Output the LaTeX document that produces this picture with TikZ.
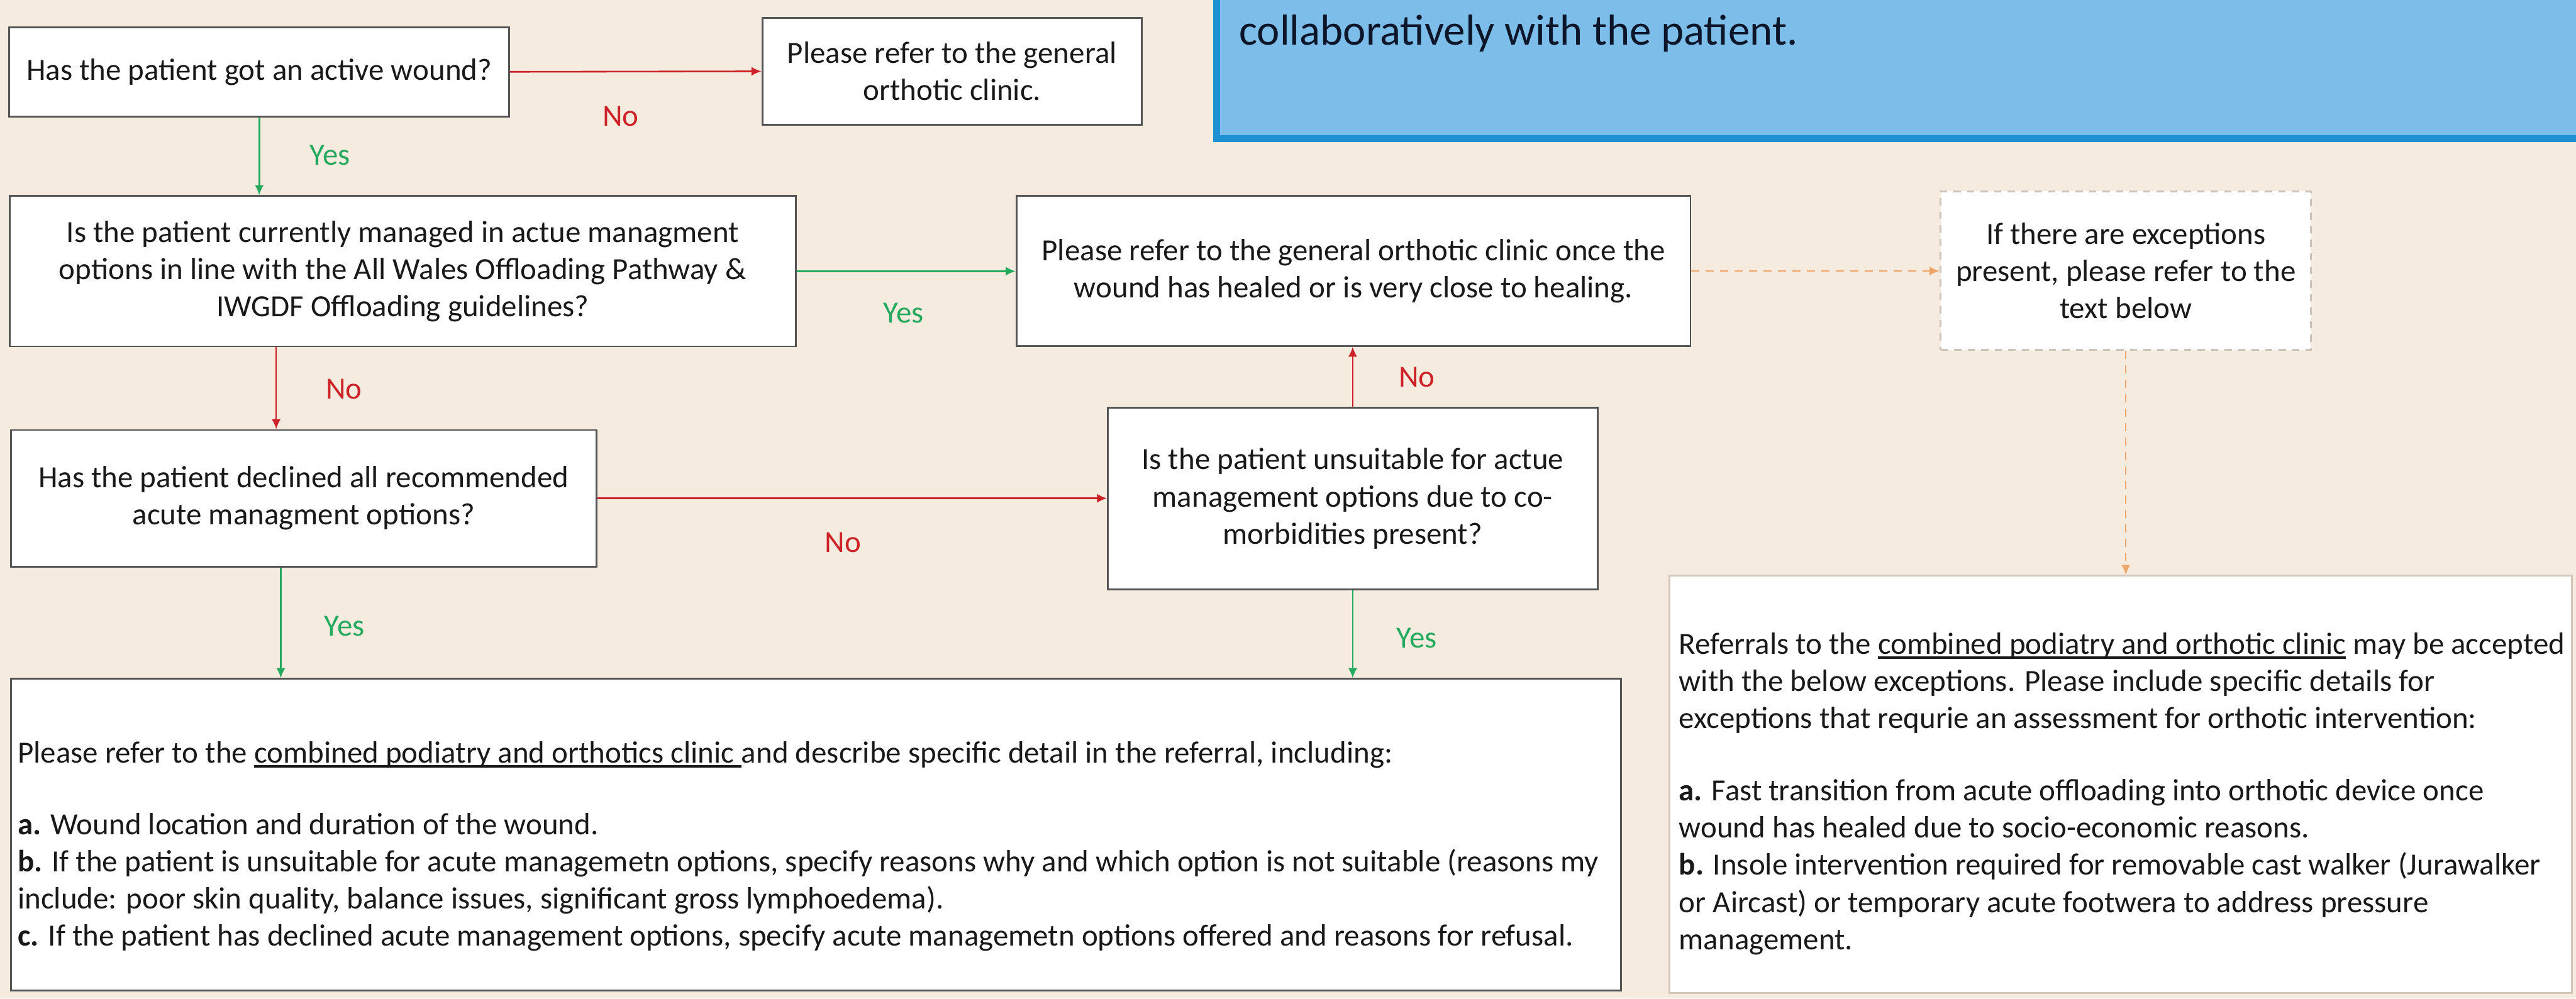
\documentclass[tikz,border=0pt]{standalone}
\usepackage{fontspec}
\setmainfont{Carlito}
\usetikzlibrary{arrows.meta,calc}
\definecolor{bgc}{RGB}{246,235,223}
\definecolor{boxdraw}{RGB}{85,85,85}
\definecolor{txt}{RGB}{25,25,25}
\definecolor{redc}{RGB}{205,35,40}
\definecolor{greenc}{RGB}{35,170,95}
\definecolor{orangec}{RGB}{240,165,105}
\definecolor{dashc}{RGB}{205,195,185}
\definecolor{bluefill}{RGB}{124,189,234}
\definecolor{blueline}{RGB}{30,145,210}
\definecolor{bsevenline}{RGB}{212,198,184}
\definecolor{navytxt}{RGB}{12,22,40}
\newcommand\fs{\fontsize{17.07}{20.6}\selectfont}
\newsavebox\myulbox
\newcommand\myul[1]{\sbox\myulbox{#1}\rlap{\rule[-0.15em]{\wd\myulbox}{0.07em}}\usebox\myulbox}
\tikzset{
  box/.style={draw=boxdraw, line width=1pt, fill=white, align=center, text=txt, font=\fs, inner sep=0pt},
  dbox/.style={box, draw=dashc, dash pattern=on 4pt off 3.5pt, line width=1.1pt},
  redarr/.style={draw=redc, line width=0.9pt, -{Latex[length=5.5pt,width=5pt]}},
  greenarr/.style={draw=greenc, line width=0.9pt, -{Latex[length=5.5pt,width=5pt]}},
  orangearr/.style={draw=orangec, line width=0.9pt, dash pattern=on 4.5pt off 3.5pt, -{Latex[length=5.5pt,width=5pt]}},
  nolab/.style={text=redc, font=\fs, inner sep=0pt},
  yeslab/.style={text=greenc, font=\fs, inner sep=0pt},
  bodytext/.style={anchor=base west, align=left, text=txt, font=\fs, inner sep=0pt}
}
\begin{document}
\begin{tikzpicture}
\useasboundingbox (0,0) rectangle (50.18,-19.46);
\fill[bgc] (0,0) rectangle (50.18,-19.46);
\clip (0,0) rectangle (50.18,-19.46);

% top-right note box
\node[draw=blueline, fill=bluefill, line width=3.7pt, minimum width=27.3cm, minimum height=3.2cm, inner sep=0pt] (note) at (37.35,-1.10) {};
\node[anchor=base west, inner sep=0pt, text=navytxt, font=\fontsize{24}{29}\selectfont] (notetext) at (24.13,-0.88) {collaboratively with the patient.};

% flow boxes
\node[box, minimum width=9.74cm, minimum height=1.74cm] (b1) at (5.05,-1.40) {Has the patient got an active wound?};
\node[box, minimum width=7.39cm, minimum height=2.08cm] (b2) at (18.545,-1.39) {Please refer to the general\\orthotic clinic.};
\node[box, minimum width=15.31cm, minimum height=2.93cm] (b3) at (7.845,-5.285) {Is the patient currently managed in actue managment\\options in line with the All Wales Offloading Pathway \&\\IWGDF Offloading guidelines?};
\node[box, minimum width=13.13cm, minimum height=2.92cm] (b4) at (26.365,-5.28) {Please refer to the general orthotic clinic once the\\wound has healed or is very close to healing.};
\node[box, minimum width=11.41cm, minimum height=2.66cm] (b5) at (5.915,-9.71) {Has the patient declined all recommended\\acute managment options?};
\node[box, minimum width=9.54cm, minimum height=3.53cm] (b6) at (26.35,-9.715) {Is the patient unsuitable for actue\\management options due to co-\\morbidities present?};
\node[dbox, minimum width=7.22cm, minimum height=3.09cm] (bx) at (41.41,-5.275) {If there are exceptions\\present, please refer to the\\text below};
\node[box, draw=bsevenline, minimum width=17.58cm, minimum height=8.13cm] (b7) at (41.31,-15.285) {};
\node[box, minimum width=31.37cm, minimum height=6.07cm] (b8) at (15.895,-16.265) {};

% texts of the big boxes (anchored at the baseline of their last line)
\node[bodytext] (t8) at (0.34,-18.43) {Please refer to the \myul{combined podiatry and orthotics clinic\ }and describe specific detail in the referral, including:\\[19pt]
\textbf{a.} Wound location and duration of the wound.\\
\textbf{b.} If the patient is unsuitable for acute managemetn options, specify reasons why and which option is not suitable (reasons my\\
include: poor skin quality, balance issues, significant gross lymphoedema).\\
\textbf{c.} If the patient has declined acute management options, specify acute managemetn options offered and reasons for refusal.};
\node[bodytext] (t7) at (32.70,-18.50) {Referrals to the \myul{combined podiatry and orthotic clinic} may be accepted\\
with the below exceptions. Please include specific details for\\
exceptions that requrie an assessment for orthotic intervention:\\[19.6pt]
\textbf{a.} Fast transition from acute offloading into orthotic device once\\
wound has healed due to socio-economic reasons.\\
\textbf{b.} Insole intervention required for removable cast walker (Jurawalker\\
or Aircast) or temporary acute footwera to address pressure\\
management.};

% connectors
\coordinate (c1) at (5.38,0);
\coordinate (c2) at (5.47,0);
\draw[redarr] (b1.east) -- (b2.west);
\draw[greenarr] (b1.south) -- (b1.south |- b3.north);
\draw[greenarr] (b3.east) -- (b3.east -| b4.west);
\draw[redarr] (c1 |- b3.south) -- (c1 |- b5.north);
\draw[greenarr] (c2 |- b5.south) -- (c2 |- b8.north);
\draw[redarr] (b5.east) -- (b5.east -| b6.west);
\draw[redarr] (b6.north) -- (b6.north |- b4.south);
\draw[greenarr] (b6.south) -- (b6.south |- b8.north);
\draw[orangearr] (b4.east) -- (b4.east -| bx.west);
\draw[orangearr] (bx.south) -- (bx.south |- b7.north);

% labels
\node[nolab] (l1) at (12.09,-2.27) {No};
\node[yeslab] (l2) at (6.43,-3.03) {Yes};
\node[yeslab] (l3) at (17.60,-6.10) {Yes};
\node[nolab] (l4) at (6.70,-7.58) {No};
\node[nolab] (l5) at (16.42,-10.57) {No};
\node[yeslab] (l6) at (6.71,-12.20) {Yes};
\node[nolab] (l7) at (27.60,-7.35) {No};
\node[yeslab] (l8) at (27.60,-12.43) {Yes};
\end{tikzpicture}
\end{document}
